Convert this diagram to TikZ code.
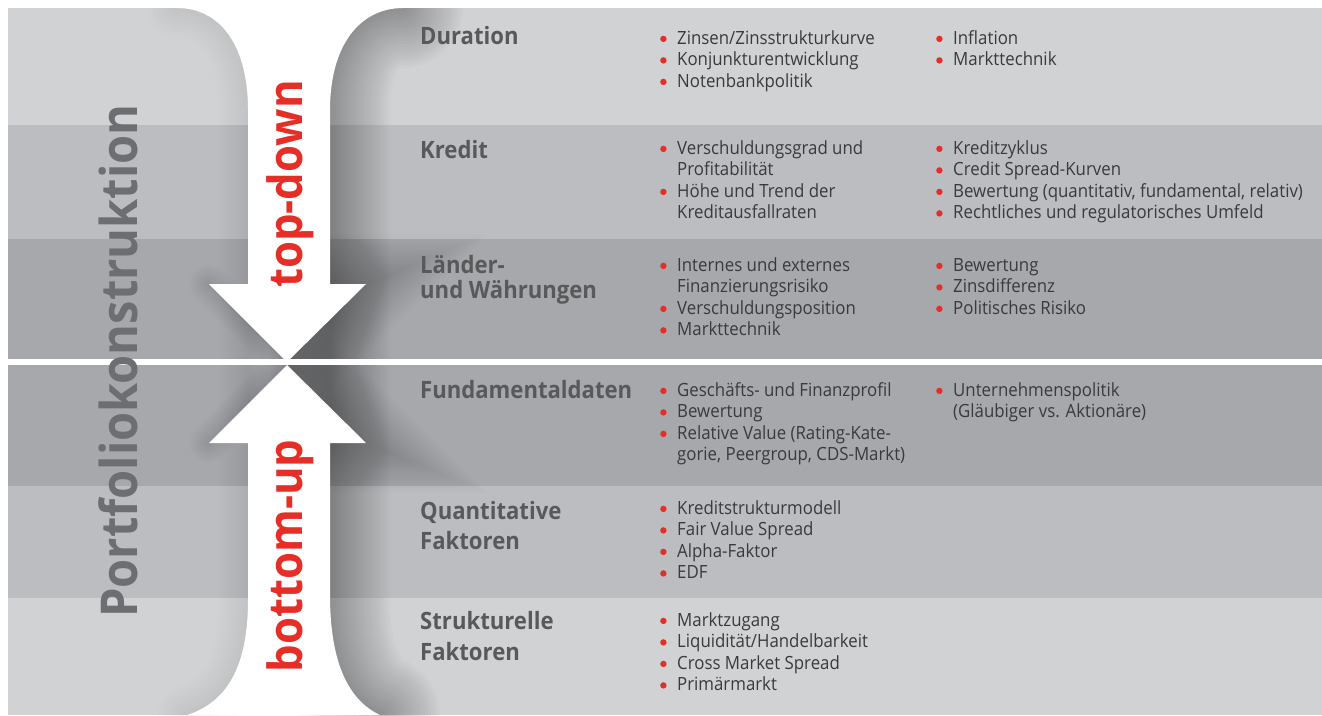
\documentclass[tikz,border=0pt]{standalone}
\usepackage{fontspec}
\setmainfont{Open Sans}[FakeStretch=0.925]
\usetikzlibrary{positioning}

\definecolor{bandlight}{HTML}{D1D2D4}
\definecolor{bandmid}{HTML}{BCBDC0}
\definecolor{banddark}{HTML}{A7A8AB}
\definecolor{labelgray}{HTML}{58595B}
\definecolor{titlegray}{HTML}{6D6E71}
\definecolor{itemgray}{HTML}{3A3A3C}
\definecolor{signalred}{HTML}{E52E26}

\newcommand\bul{\makebox[17pt][l]{\rule{0pt}{16pt}\tikz[baseline=-5.3pt]\fill[signalred] (3.2pt,0pt) circle[radius=3.2pt];}}
\newcommand\ind{\hspace*{17pt}}

\begin{document}
\begin{tikzpicture}[
    x=1pt, y=-1pt,
    cat/.style={anchor=base west, inner sep=0pt, text=labelgray, font=\fontsize{23.9}{26}\selectfont\bfseries},
    items/.style={anchor=north west, inner sep=0pt, align=left, text=itemgray, font=\fontsize{18.2}{21.5}\selectfont},
    flow/.style={rotate=90, anchor=base, inner sep=0pt, text=signalred, font=\fontsize{47.2}{47.2}\selectfont\bfseries},
    soft/.style={black, opacity=#1, line cap=round}
]
\useasboundingbox (0,0) rectangle (1322,715);

\fill[bandlight] (8,8) rectangle (1322,125);
\fill[bandmid] (8,125) rectangle (1322,239);
\fill[banddark] (8,239) rectangle (1322,359);
\fill[banddark] (8,365) rectangle (1322,486);
\fill[bandmid] (8,486) rectangle (1322,598);
\fill[bandlight] (8,598) rectangle (1322,715);

\begin{scope}
\clip (8,8) rectangle (1322,715);
\foreach \w in {6,12,...,120}
  \draw[soft=0.016, line width=\w] (403,8) .. controls (360,8) and (330,45) .. (330,110) -- (330,595) .. controls (330,662) and (348,700) .. (380,715);
\foreach \w in {4,8,...,60}
  \draw[soft=0.004, line width=\w] (177,8) .. controls (220,8) and (248,45) .. (248,110) -- (248,600) .. controls (248,665) and (228,702) .. (187,715);
\end{scope}
\begin{scope}
\clip (287,8) rectangle (1322,715);
\foreach \w in {5,10,...,100}
  \draw[soft=0.009, line width=\w] (330,284) -- (366,284) -- (287,362);
\foreach \w in {5,10,...,100}
  \draw[soft=0.009, line width=\w] (287,365) -- (366,443) -- (330,443);
\end{scope}
\begin{scope}
\clip (8,8) rectangle (287,715);
\foreach \w in {4,8,...,40}
  \draw[soft=0.006, line width=\w] (209,284) -- (287,362) (287,365) -- (209,443);
\end{scope}

\fill[white] (177,8) .. controls (220,8) and (248,45) .. (248,110) -- (248,284) -- (209,284) -- (287,362) -- (366,284) -- (330,284)
  -- (330,110) .. controls (330,45) and (360,8) .. (403,8) -- cycle;
\fill[white] (187,715) .. controls (228,702) and (248,665) .. (248,600) -- (248,443) -- (209,443) -- (287,365) -- (366,443) -- (330,443)
  -- (330,595) .. controls (330,662) and (348,700) .. (380,715) -- cycle;
\fill[white] (8,359) rectangle (1322,365);

\node[rotate=90, anchor=base, inner sep=0pt, text=titlegray, font=\fontsize{50.8}{50.8}\selectfont\bfseries] (portfolio) at (137,361) {Portfoliokonstruktion};
\node[flow] (topdown) at (302,184) {top-down};
\node[flow] (bottomup) at (302,556) {bottom-up};

\node[cat] (duration) at (420,44) {Duration};
\node[items] (duration-a) at (660,28) {\bul Zinsen/Zinsstrukturkurve\\\bul Konjunkturentwicklung\\\bul Notenbankpolitik};
\node[items] (duration-b) at (936,28) {\bul Inflation\\\bul Markttechnik};

\node[cat] (kredit) at (420,158) {Kredit};
\node[items] (kredit-a) at (660,138) {\bul Verschuldungsgrad und\\\ind Profitabilität\\\bul Höhe und Trend der\\\ind Kreditausfallraten};
\node[items] (kredit-b) at (936,138) {\bul Kreditzyklus\\\bul Credit Spread-Kurven\\\bul Bewertung (quantitativ, fundamental, relativ)\\\bul Rechtliches und regulatorisches Umfeld};

\node[cat] (laender) at (420,273) {Länder-};
\node[cat] (laender-2) at (420,298) {und Währungen};
\node[items] (laender-a) at (660,255) {\bul Internes und externes\\\ind Finanzierungsrisiko\\\bul Verschuldungsposition\\\bul Markttechnik};
\node[items] (laender-b) at (936,255) {\bul Bewertung\\\bul Zinsdifferenz\\\bul Politisches Risiko};

\node[cat] (fundamental) at (420,398) {Fundamentaldaten};
\node[items] (fundamental-a) at (660,380) {\bul Geschäfts- und Finanzprofil\\\bul Bewertung\\\bul Relative Value (Rating-Kate-\\\ind gorie, Peergroup, CDS-Markt)};
\node[items] (fundamental-b) at (936,380) {\bul Unternehmenspolitik\\\ind (Gläubiger vs. Aktionäre)};

\node[cat] (quantitativ) at (420,519) {Quantitative};
\node[cat] (quantitativ-2) at (420,549) {Faktoren};
\node[items] (quantitativ-a) at (660,498) {\bul Kreditstrukturmodell\\\bul Fair Value Spread\\\bul Alpha-Faktor\\\bul EDF};

\node[cat] (strukturell) at (420,629) {Strukturelle};
\node[cat] (strukturell-2) at (420,660) {Faktoren};
\node[items] (strukturell-a) at (660,610) {\bul Marktzugang\\\bul Liquidität/Handelbarkeit\\\bul Cross Market Spread\\\bul Primärmarkt};
\end{tikzpicture}
\end{document}
